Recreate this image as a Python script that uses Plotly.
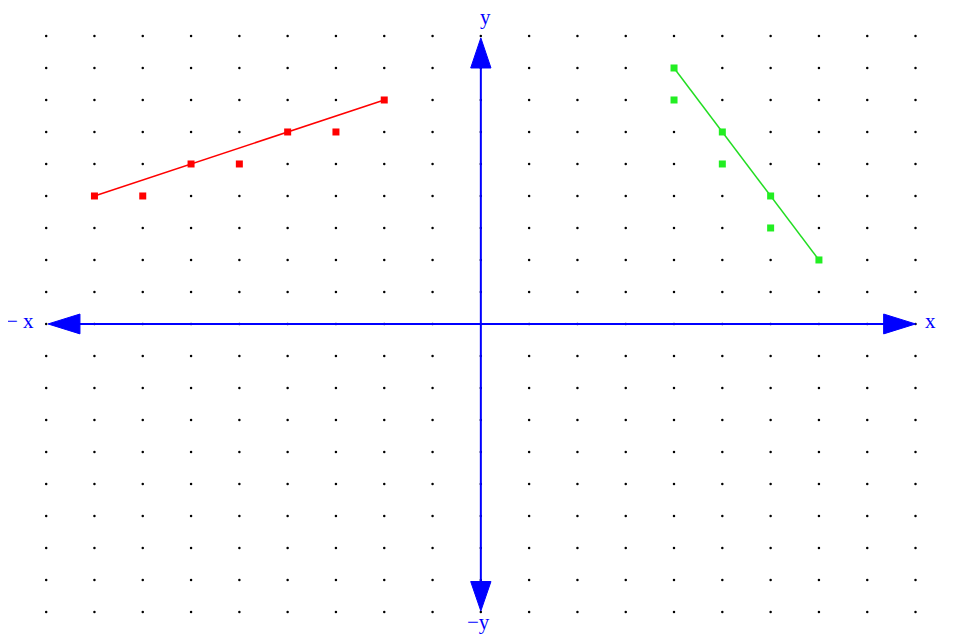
import numpy as np
import plotly.graph_objects as go

grid_x = list(range(-9, 10))
grid_y = list(range(-9, 10))

red_x = [-8, -7, -6, -5, -4, -3, -2]
red_y = [4, 4, 5, 5, 6, 6, 7]
red_line_x = [-8, -2]
red_line_y = [4, 7]

green_x = [4, 4, 5, 5, 6, 6, 7]
green_y = [8, 7, 6, 5, 4, 3, 2]
green_line_x = [4, 7]
green_line_y = [8, 2]

gx, gy = np.meshgrid(grid_x, grid_y)

fig = go.Figure()
fig.add_trace(go.Scatter(x=gx.ravel(), y=gy.ravel(), mode="markers",
                         marker=dict(color="black", size=2.5), hoverinfo="skip"))
fig.add_trace(go.Scatter(x=red_line_x, y=red_line_y, mode="lines", line=dict(color="red", width=1.5)))
fig.add_trace(go.Scatter(x=red_x, y=red_y, mode="markers",
                         marker=dict(color="red", size=7, symbol="square")))
fig.add_trace(go.Scatter(x=green_line_x, y=green_line_y, mode="lines", line=dict(color="#22dd22", width=1.5)))
fig.add_trace(go.Scatter(x=green_x, y=green_y, mode="markers",
                         marker=dict(color="#22ee22", size=7, symbol="square")))

blue = "#0000ff"
shapes = [
    dict(type="line", x0=-8.6, x1=8.6, y0=0, y1=0, line=dict(color=blue, width=2)),
    dict(type="line", x0=0, x1=0, y0=-8.6, y1=8.6, line=dict(color=blue, width=2)),
    dict(type="path", path="M 9.0 0 L 8.34 0.31 L 8.34 -0.31 Z", fillcolor=blue, line=dict(color=blue, width=1)),
    dict(type="path", path="M -8.96 0 L -8.3 0.31 L -8.3 -0.31 Z", fillcolor=blue, line=dict(color=blue, width=1)),
    dict(type="path", path="M 0 8.94 L 0.21 8.0 L -0.21 8.0 Z", fillcolor=blue, line=dict(color=blue, width=1)),
    dict(type="path", path="M 0 -8.97 L 0.21 -8.05 L -0.21 -8.05 Z", fillcolor=blue, line=dict(color=blue, width=1)),
]

font = dict(family="Liberation Serif", size=21, color=blue)
annotations = [
    dict(x=-9.55, y=0.08, text="− x", showarrow=False, font=font),
    dict(x=9.3, y=0.08, text="x", showarrow=False, font=font),
    dict(x=0.1, y=9.6, text="y", showarrow=False, font=font),
    dict(x=-0.05, y=-9.3, text="−y", showarrow=False, font=font),
]

fig.update_layout(
    width=965, height=642, margin=dict(l=0, r=0, t=0, b=0),
    plot_bgcolor="white", paper_bgcolor="white", showlegend=False,
    shapes=shapes, annotations=annotations,
    xaxis=dict(range=[-9.79, 10.19], visible=False),
    yaxis=dict(range=[-10.19, 9.875], visible=False),
)

fig.write_html("out.html")
